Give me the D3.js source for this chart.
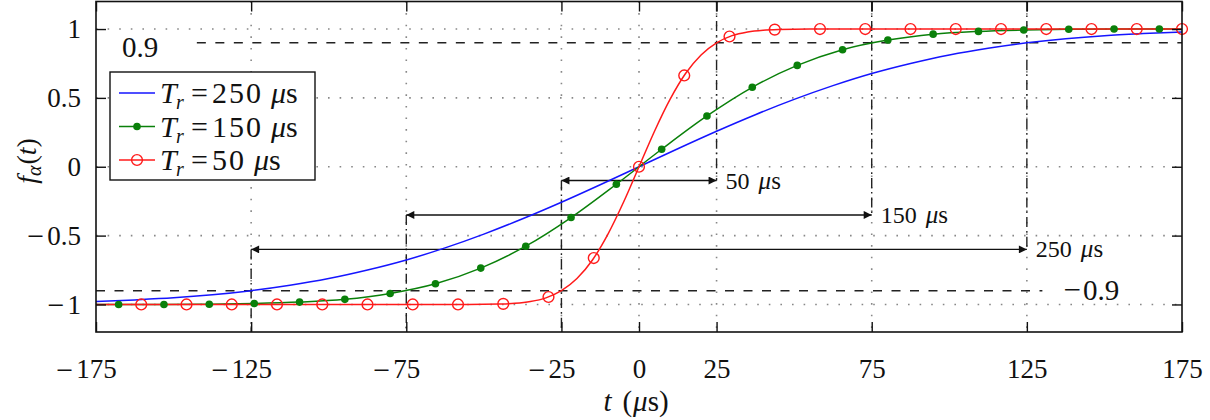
<!DOCTYPE html>
<html>
<head>
<meta charset="utf-8">
<script src="https://cdn.jsdelivr.net/npm/d3@7"></script>
<style>
  body { margin: 0; background: #fff; }
  text { font-family: "Liberation Serif", "DejaVu Serif", serif; fill: #111; }
</style>
</head>
<body>
<div id="chart"></div>
<script>
// ticks
const xTicks = [-175, -125, -75, -25, 0, 25, 75, 125, 175];
const xTickLabels = ["\u2212175", "\u2212125", "\u221275", "\u221225", "0", "25", "75", "125", "175"];
const yTicks = [-1, -0.5, 0, 0.5, 1];
const yTickLabels = ["\u22121", "\u22120.5", "0", "0.5", "1"];

// T_r = 250 us (line only)
const blueT = [-175, -162.5, -150, -137.5, -125, -112.5, -100, -87.5, -75, -62.5, -50, -37.5, -25, -12.5, 0,
  12.5, 25, 37.5, 50, 62.5, 75, 87.5, 100, 112.5, 125, 137.5, 150, 162.5, 175];
const blueF = [-0.979, -0.967, -0.952, -0.930, -0.900, -0.861, -0.812, -0.750, -0.677, -0.589, -0.489, -0.378, -0.258, -0.131, 0,
  0.131, 0.258, 0.378, 0.489, 0.589, 0.677, 0.750, 0.812, 0.861, 0.900, 0.930, 0.952, 0.967, 0.979];

// T_r = 150 us (markers, line runs edge to edge)
const greenT = [-167.7, -153.1, -138.5, -124.0, -109.4, -94.8, -80.2, -65.6, -51.0, -36.5, -21.9, -7.3,
  7.3, 21.9, 36.5, 51.0, 65.6, 80.2, 94.8, 109.4, 124.0, 138.5, 153.1, 167.7];
const greenF = [-1.0, -1.0, -0.998, -0.993, -0.983, -0.963, -0.92, -0.85, -0.736, -0.577, -0.369, -0.127,
  0.127, 0.369, 0.577, 0.736, 0.85, 0.92, 0.963, 0.983, 0.993, 0.998, 1.0, 1.0];
const greenEndT = [-175, 175];
const greenEndF = [-1.0, 1.0];

// T_r = 50 us
const redLineT = [-175, -160, -145, -130, -115, -100, -85, -70, -55, -45, -40, -35, -30, -25, -20, -15, -10, -5, 0,
  5, 10, 15, 20, 25, 30, 35, 40, 45, 55, 70, 85, 100, 115, 130, 145, 160, 175];
const redLineF = [-1, -1, -1, -1, -1, -1, -1, -1, -1, -0.997, -0.992, -0.979, -0.952, -0.90, -0.812, -0.677, -0.489, -0.258, 0,
  0.258, 0.489, 0.677, 0.812, 0.90, 0.952, 0.979, 0.992, 0.997, 1, 1, 1, 1, 1, 1, 1, 1, 1];
const redT = [-160.42, -145.83, -131.25, -116.67, -102.08, -87.5, -72.92, -58.33, -43.75, -29.17, -14.58, 0,
  14.58, 29.17, 43.75, 58.33, 72.92, 87.5, 102.08, 116.67, 131.25, 145.83, 160.42, 175];
const redF = [-1, -1, -1, -1, -1, -1, -1, -1, -0.996, -0.946, -0.663, 0,
  0.663, 0.946, 0.996, 1, 1, 1, 1, 1, 1, 1, 1, 1];

// rise time annotations
const riseTimes = [50, 150, 250];
const arrowLevels = [-0.1, -0.35, -0.6];
const riseLabels = ["50", "150", "250"];

const width = 1210, height = 420;
const margin = { top: 1.5, right: 28, bottom: 88, left: 96 };

const svg = d3.select("#chart").append("svg")
  .attr("width", width)
  .attr("height", height)
  .attr("font-family", "Liberation Serif, serif");

const x = d3.scaleLinear().domain([-175, 175]).range([margin.left, width - margin.right]);
const y = d3.scaleLinear().domain([-1.2, 1.2]).range([height - margin.bottom, margin.top]);

const defs = svg.append("defs");
defs.append("marker")
  .attr("id", "head")
  .attr("viewBox", "0 0 10 10")
  .attr("refX", 10).attr("refY", 5)
  .attr("markerWidth", 11).attr("markerHeight", 8)
  .attr("markerUnits", "userSpaceOnUse")
  .attr("orient", "auto-start-reverse")
  .append("path")
  .attr("d", "M0,0 L10,5 L0,10 Z")
  .attr("fill", "#111");

// grid
const grid = svg.append("g").attr("stroke", "#888").attr("stroke-width", 1.6).attr("stroke-dasharray", "1.6,10");
grid.selectAll(".gx").data(xTicks.slice(1, -1)).join("line")
  .attr("x1", d => x(d)).attr("x2", d => x(d))
  .attr("y1", y(1.2)).attr("y2", y(-1.2));
grid.selectAll(".gy").data(yTicks).join("line")
  .attr("y1", d => y(d)).attr("y2", d => y(d))
  .attr("x1", x(-175)).attr("x2", x(175));

// +-0.9 dashed levels
const dashed = svg.append("g").attr("stroke", "#222").attr("stroke-width", 1.4).attr("stroke-dasharray", "9,9.5");
dashed.append("line").attr("x1", x(-142.5)).attr("x2", x(175)).attr("y1", y(0.9)).attr("y2", y(0.9));
dashed.append("line").attr("x1", x(-175)).attr("x2", x(130)).attr("y1", y(-0.9)).attr("y2", y(-0.9));

svg.append("text").attr("x", 122).attr("y", 57).attr("font-size", 29).text("0.9");
svg.append("text").attr("x", 1083).attr("y", 300).attr("font-size", 29).text("0.9");
svg.append("text").attr("x", 1081).attr("y", 300).attr("font-size", 31).attr("text-anchor", "end").text("\u2212");

// dash-dot verticals and arrows
const vlines = svg.append("g").attr("stroke", "#222").attr("stroke-width", 1.4).attr("stroke-dasharray", "10,4,1.6,4");
riseTimes.forEach((tr, i) => {
  const lv = arrowLevels[i];
  vlines.append("line").attr("x1", x(tr / 2)).attr("x2", x(tr / 2)).attr("y1", y(1.2)).attr("y2", y(lv));
  vlines.append("line").attr("x1", x(-tr / 2)).attr("x2", x(-tr / 2)).attr("y1", y(lv)).attr("y2", y(-1.2));
  svg.append("line")
    .attr("x1", x(-tr / 2)).attr("x2", x(tr / 2))
    .attr("y1", y(lv)).attr("y2", y(lv))
    .attr("stroke", "#111").attr("stroke-width", 1.4)
    .attr("marker-start", "url(#head)").attr("marker-end", "url(#head)");
  const lab = svg.append("text")
    .attr("x", x(tr / 2) + 9).attr("y", y(lv) + 8)
    .attr("font-size", 24);
  lab.append("tspan").text(riseLabels[i]);
  lab.append("tspan").attr("dx", 9).attr("font-size", 25).attr("font-style", "italic").text("\u03bc");
  lab.append("tspan").attr("font-size", 25).text("s");
});

// curves
const line = d3.line().x(d => x(d[0])).y(d => y(d[1])).curve(d3.curveMonotoneX);

const blueData = blueT.map((t, i) => [t, blueF[i]]);
const greenData = greenT.map((t, i) => [t, greenF[i]]);
const greenLine = [[greenEndT[0], greenEndF[0]], ...greenData, [greenEndT[1], greenEndF[1]]];
const redLine = redLineT.map((t, i) => [t, redLineF[i]]);
const redData = redT.map((t, i) => [t, redF[i]]);

svg.append("path").datum(blueData).attr("d", line)
  .attr("fill", "none").attr("stroke", "#1515ff").attr("stroke-width", 1.5);
svg.append("path").datum(greenLine).attr("d", line)
  .attr("fill", "none").attr("stroke", "#0a800a").attr("stroke-width", 1.5);
svg.append("path").datum(redLine).attr("d", line)
  .attr("fill", "none").attr("stroke", "#ff1a1a").attr("stroke-width", 1.5);

svg.selectAll(".gm").data(greenData).join("circle")
  .attr("cx", d => x(d[0])).attr("cy", d => y(d[1])).attr("r", 3.8)
  .attr("fill", "#0a800a");
svg.selectAll(".rm").data(redData).join("circle")
  .attr("cx", d => x(d[0])).attr("cy", d => y(d[1])).attr("r", 5.4)
  .attr("fill", "none").attr("stroke", "#ff1a1a").attr("stroke-width", 1.4);

// axes (inward ticks on all sides)
function styleAxis(g) {
  g.select(".domain").remove();
  g.selectAll(".tick line").attr("stroke", "#111").attr("stroke-width", 1.4);
  g.attr("font-family", null).attr("font-size", 27);
  g.selectAll("text").attr("fill", "#111");
}
// minus signs hang left of the number, as in the TeX original
function hangMinus(g, centred) {
  g.selectAll(".tick text").each(function () {
    const el = d3.select(this);
    const s = el.text();
    if (s[0] !== "\u2212") return;
    el.text(s.slice(1));
    const w = this.getComputedTextLength();
    const left = centred ? -w / 2 : +el.attr("x") - w;
    d3.select(this.parentNode).append("text")
      .attr("x", left - 3).attr("y", el.attr("y")).attr("dy", el.attr("dy"))
      .attr("font-size", 30)
      .attr("text-anchor", "end").attr("fill", "#111").text("\u2212");
  });
}
svg.append("g").attr("transform", `translate(0,${y(-1.2)})`)
  .call(d3.axisBottom(x).tickValues(xTicks).tickFormat((d, i) => xTickLabels[i])
    .tickSizeInner(-10).tickSizeOuter(0).tickPadding(27))
  .call(styleAxis)
  .call(g => hangMinus(g, true));
svg.append("g").attr("transform", `translate(0,${y(1.2)})`)
  .call(d3.axisTop(x).tickValues(xTicks).tickFormat("").tickSizeInner(-10).tickSizeOuter(0))
  .call(styleAxis);
svg.append("g").attr("transform", `translate(${x(-175)},0)`)
  .call(d3.axisLeft(y).tickValues(yTicks).tickFormat((d, i) => yTickLabels[i])
    .tickSizeInner(-10).tickSizeOuter(0).tickPadding(15))
  .call(styleAxis)
  .call(g => hangMinus(g, false));
svg.append("g").attr("transform", `translate(${x(175)},0)`)
  .call(d3.axisRight(y).tickValues(yTicks).tickFormat("").tickSizeInner(-10).tickSizeOuter(0))
  .call(styleAxis);

// frame
svg.append("rect")
  .attr("x", x(-175)).attr("y", y(1.2))
  .attr("width", x(175) - x(-175)).attr("height", y(-1.2) - y(1.2))
  .attr("fill", "none").attr("stroke", "#111").attr("stroke-width", 1.6);

// axis titles
const xt = svg.append("text").attr("x", 636).attr("y", 411).attr("font-size", 29).attr("text-anchor", "middle");
xt.append("tspan").attr("font-style", "italic").text("t");
xt.append("tspan").attr("dx", 11).text("(");
xt.append("tspan").attr("dx", 1).attr("font-style", "italic").text("\u03bc");
xt.append("tspan").text("s)");

const yt = svg.append("text")
  .attr("transform", "translate(36,161) rotate(-90)")
  .attr("font-size", 28).attr("text-anchor", "middle");
yt.append("tspan").attr("font-style", "italic").text("f");
yt.append("tspan").attr("font-style", "italic").attr("font-size", 20).attr("dy", 5).text("\u03b1");
yt.append("tspan").attr("dy", -5).attr("dx", 1).text("(");
yt.append("tspan").attr("font-style", "italic").text("t");
yt.append("tspan").text(")");

// legend
const legendNames = ["250", "150", "50"];
const legendColors = ["#1515ff", "#0a800a", "#ff1a1a"];
const legendMarks = ["none", "dot", "ring"];
const lg = svg.append("g");
lg.append("rect").attr("x", 110).attr("y", 72).attr("width", 205).attr("height", 108)
  .attr("fill", "#fff").attr("stroke", "#111").attr("stroke-width", 1.4);
legendNames.forEach((nm, i) => {
  const cy = 93 + i * 33.5;
  lg.append("line").attr("x1", 119).attr("x2", 155).attr("y1", cy).attr("y2", cy)
    .attr("stroke", legendColors[i]).attr("stroke-width", 1.5);
  if (legendMarks[i] === "dot") {
    lg.append("circle").attr("cx", 137).attr("cy", cy).attr("r", 3.8).attr("fill", legendColors[i]);
  } else if (legendMarks[i] === "ring") {
    lg.append("circle").attr("cx", 137).attr("cy", cy).attr("r", 5.4)
      .attr("fill", "none").attr("stroke", legendColors[i]).attr("stroke-width", 1.4);
  }
  const base = cy + 10;
  lg.append("text").attr("x", 160).attr("y", base).attr("font-size", 30).attr("font-style", "italic").text("T");
  lg.append("text").attr("x", 176).attr("y", base + 6).attr("font-size", 20).attr("font-style", "italic").text("r");
  lg.append("text").attr("x", 191).attr("y", base).attr("font-size", 30).text("=");
  const num = lg.append("text").attr("x", 212).attr("y", base).attr("font-size", 30)
    .attr("letter-spacing", 2).text(nm);
  const nx = 212 + num.node().getComputedTextLength() + 8;
  const u = lg.append("text").attr("x", nx).attr("y", base).attr("font-size", 30);
  u.append("tspan").attr("font-style", "italic").text("\u03bc");
  u.append("tspan").text("s");
});
</script>
</body>
</html>
